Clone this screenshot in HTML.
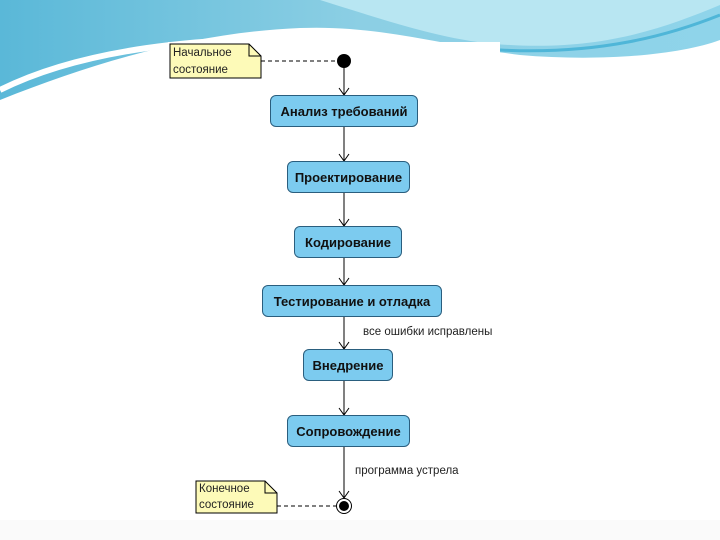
<!DOCTYPE html>
<html><head><meta charset="utf-8"><style>
body{margin:0;width:720px;height:540px;overflow:hidden;background:#fff;font-family:"Liberation Sans",sans-serif}
.b{position:absolute;background:#7ccbef;border:1.5px solid #2a5e7e;border-radius:6px;box-sizing:border-box;font-weight:bold;font-size:13px;color:#111;display:flex;align-items:center;justify-content:center}
.t{position:absolute;font-size:11.5px;color:#222}
</style></head><body>
<svg width="720" height="540" style="position:absolute;left:0;top:0">
<defs>
<linearGradient id="g1" x1="0" y1="0" x2="1" y2="0"><stop offset="0" stop-color="#5ab8d8"/><stop offset="0.5" stop-color="#8ccfe4"/><stop offset="1" stop-color="#8fd4ea"/></linearGradient>
</defs>
<rect x="0" y="0" width="720" height="540" fill="#fff"/>
<path d="M0 0 H720 V40 C680 55 600 62 520 55 C440 45 380 25 300 28 C200 32 100 60 0 100 Z" fill="url(#g1)"/>
<path d="M320 0 C400 25 450 42 510 45 C600 50 660 30 720 5 V0 Z" fill="#b8e6f2"/>
<path d="M0 90 C80 50 200 35 330 40" stroke="#fff" stroke-width="6" fill="none"/>
<path d="M500 50 C600 55 670 35 720 15" stroke="#4fb6d8" stroke-width="3" fill="none"/>
<rect x="168" y="42" width="332" height="478" fill="#fff"/>
<rect x="0" y="520" width="720" height="20" fill="#fafafa"/>
<g stroke="#000" stroke-width="1" fill="none">
<path d="M344 61 V95 M344 127 V161 M344 193 V226 M344 258 V285 M344 317 V349 M344 381 V415 M344 447 V498"/>
<path d="M339 88 L344 95 L349 88 M339 154 L344 161 L349 154 M339 219 L344 226 L349 219 M339 278 L344 285 L349 278 M339 342 L344 349 L349 342 M339 408 L344 415 L349 408 M339 491 L344 498 L349 491"/>
<path d="M261 61 H337 M277 506 H336" stroke-dasharray="4,3"/>
</g>
<circle cx="344" cy="61" r="7" fill="#000"/>
<circle cx="344" cy="506" r="7.5" fill="#fff" stroke="#000"/>
<circle cx="344" cy="506" r="5" fill="#000"/>
<path d="M170 44 H249 L261 56 V78 H170 Z" fill="#fdfab8" stroke="#000" stroke-width="1"/>
<path d="M249 44 V56 H261" fill="none" stroke="#000"/>
<path d="M196 481 H265 L277 493 V513 H196 Z" fill="#fdfab8" stroke="#000" stroke-width="1"/>
<path d="M265 481 V493 H277" fill="none" stroke="#000"/>
</svg>
<div class="t" style="left:173px;top:47px">Начальное</div>
<div class="t" style="left:173px;top:64px">состояние</div>
<div class="t" style="left:199px;top:483px">Конечное</div>
<div class="t" style="left:199px;top:499px">состояние</div>
<div class="b" style="left:270px;top:95px;width:148px;height:32px">Анализ требований</div>
<div class="b" style="left:287px;top:161px;width:123px;height:32px">Проектирование</div>
<div class="b" style="left:294px;top:226px;width:108px;height:32px">Кодирование</div>
<div class="b" style="left:262px;top:285px;width:180px;height:32px">Тестирование и отладка</div>
<div class="b" style="left:303px;top:349px;width:90px;height:32px">Внедрение</div>
<div class="b" style="left:287px;top:415px;width:123px;height:32px">Сопровождение</div>
<div class="t" style="left:363px;top:326px">все ошибки исправлены</div>
<div class="t" style="left:355px;top:465px">программа устрела</div>
</body></html>
